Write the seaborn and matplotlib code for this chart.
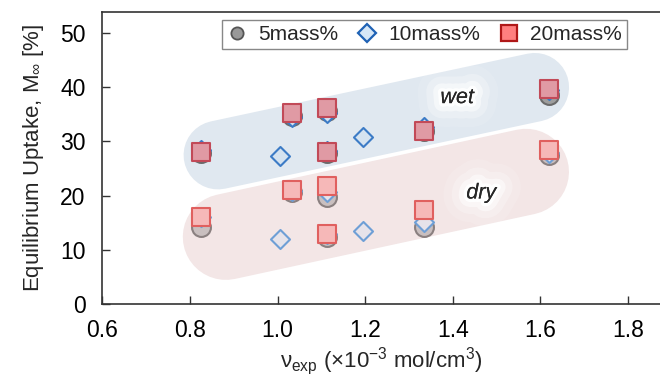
import numpy as np
import pandas as pd
import matplotlib
matplotlib.use("Agg")
import matplotlib.pyplot as plt
import matplotlib.patheffects as pe
from matplotlib.lines import Line2D
import seaborn as sns

# crosslink density nu_exp (x1e-3 mol/cm3)
x_main = [0.825, 1.034, 1.112, 1.112, 1.335, 1.619]
x_10 = [0.825, 1.005, 1.034, 1.112, 1.112, 1.195, 1.335, 1.619]

# equilibrium uptake [%], wet condition
wet_5 = [27.8, 34.7, 35.6, 27.9, 31.9, 38.6]
wet_10 = [28.4, 27.3, 34.5, 35.2, 28.2, 30.8, 32.7, 39.5]
wet_20 = [28.0, 35.2, 36.1, 28.0, 32.0, 39.7]

# dry condition
dry_5 = [14.3, 20.7, 19.8, 12.4, 14.3, 27.5]
dry_10 = [16.0, 12.0, 20.8, 20.7, 13.0, 13.5, 15.1, 27.9]
dry_20 = [16.1, 21.0, 21.8, 13.0, 17.3, 28.4]

labels = ["5mass%", "10mass%", "20mass%"]

# shaded guide bands (end points in data units)
wet_band_x = [0.864, 1.587]
wet_band_y = [27.5, 40.0]
dry_band_x = [0.882, 1.567]
dry_band_y = [12.4, 24.4]

sns.set_style("ticks")
plt.rcParams["font.family"] = ["Liberation Sans", "DejaVu Sans"]
plt.rcParams["mathtext.fontset"] = "custom"
plt.rcParams["mathtext.rm"] = "Liberation Sans"
plt.rcParams["mathtext.it"] = "Liberation Sans:italic"

fig = plt.figure(figsize=(6.6, 3.81), dpi=100)
ax = fig.add_axes([0.155, 0.202, 0.845, 0.7665])

ax.plot(wet_band_x, wet_band_y, color="#e0e8f0", lw=49.5,
        solid_capstyle="round", zorder=0)
ax.plot(dry_band_x, dry_band_y, color="#f3e6e6", lw=62,
        solid_capstyle="round", zorder=0)

styles = {
    "wet": dict(
        o=("#9e9e9e", "#6b6b6b"), D=("#d5e3f0", "#3c7bc6"), s=("#e09aa4", "#c24a58")),
    "dry": dict(
        o=("#c9bfbf", "#8a8080"), D=("#e6e3ea", "#6e9fd6"), s=("#f6b8b8", "#e0605f")),
}
sizes = {"o": 185, "D": 94, "s": 160}

series = [
    ("wet", "o", x_main, wet_5), ("wet", "D", x_10, wet_10), ("wet", "s", x_main, wet_20),
    ("dry", "o", x_main, dry_5), ("dry", "D", x_10, dry_10), ("dry", "s", x_main, dry_20),
]
order = {"o": 2, "D": 3, "s": 4}
for cond, mk, xs, ys in series:
    df = pd.DataFrame({"nu": xs, "M": ys})
    fc, ec = styles[cond][mk]
    sns.scatterplot(data=df, x="nu", y="M", marker=mk, s=sizes[mk], color=fc,
                    edgecolor=ec, linewidth=1.5, ax=ax, legend=False, zorder=order[mk])

glow = [pe.withStroke(linewidth=34, foreground="white", alpha=0.12),
        pe.withStroke(linewidth=22, foreground="white", alpha=0.25),
        pe.withStroke(linewidth=12, foreground="white", alpha=0.5),
        pe.withStroke(linewidth=5, foreground="white", alpha=0.9),
        pe.Normal()]
ax.text(1.41, 38.1, "wet", fontsize=15.5, style="italic", ha="center", va="center",
        path_effects=glow, zorder=1)
ax.text(1.465, 20.5, "dry", fontsize=15.5, style="italic", ha="center", va="center",
        path_effects=glow, zorder=1)

ax.set_xlim(0.6, 1.873)
ax.set_ylim(0, 53.9)
ax.set_xticks([0.6, 0.8, 1.0, 1.2, 1.4, 1.6, 1.8])
ax.set_xticklabels(["0.6", "0.8", "1.0", "1.2", "1.4", "1.6", "1.8"])
ax.set_yticks([0, 10, 20, 30, 40, 50])
ax.tick_params(direction="in", length=5.5, width=1, color="#333333",
               labelsize=16.5, labelcolor="black")
ax.tick_params(axis="y", pad=12)
ax.tick_params(axis="x", pad=11)
for side in ["left", "bottom", "top"]:
    ax.spines[side].set_color("#333333")
    ax.spines[side].set_linewidth(1.2)
    ax.spines[side].set_visible(True)
ax.spines["right"].set_visible(False)

ax.set_xlabel(r"ν$_{\mathrm{exp}}$ (×10$^{-3}$ mol/cm$^{3}$)", fontsize=16, labelpad=2)
ax.set_ylabel(r"Equilibrium Uptake, M$_{\infty}$ [%]", fontsize=16, labelpad=10)

handles = [
    Line2D([], [], ls="none", marker="o", ms=8.8, mfc="#999999", mec="#555555", mew=1.3),
    Line2D([], [], ls="none", marker="D", ms=9.5, mfc="#d6e7f7", mec="#1f62b5", mew=1.6),
    Line2D([], [], ls="none", marker="s", ms=11, mfc="#ff7f7f", mec="#b01818", mew=1.6),
]
leg = ax.legend(handles, labels, ncol=3, loc="upper left", bbox_to_anchor=(0.214, 0.973),
                borderaxespad=0, fontsize=15, frameon=True, fancybox=False,
                handlelength=1.0, handletextpad=0.5, columnspacing=0.9,
                borderpad=0.25)
leg.get_frame().set_edgecolor("#888888")
leg.get_frame().set_linewidth(1.0)
leg.get_frame().set_alpha(1)

fig.savefig("out.png", dpi=100)
